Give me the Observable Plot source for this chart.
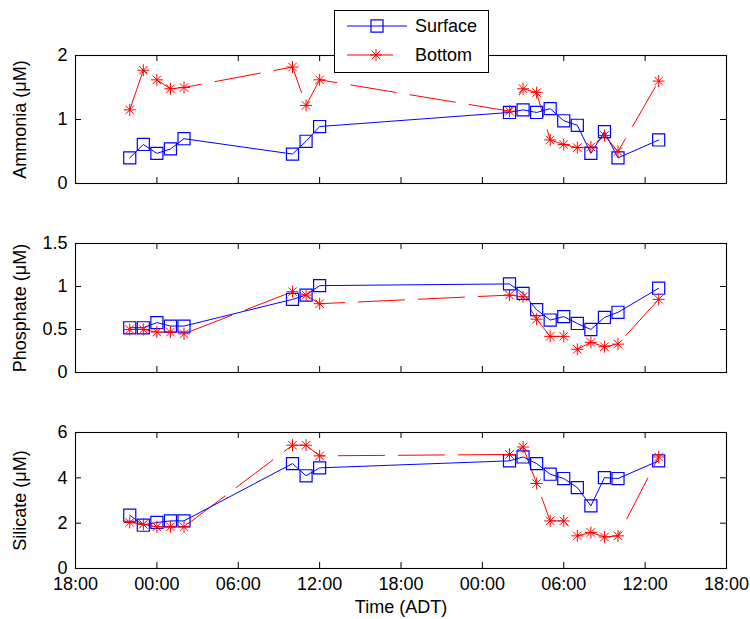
<!DOCTYPE html>
<html><head><meta charset="utf-8">
<script src="https://cdn.jsdelivr.net/npm/d3@7"></script>
<script src="https://cdn.jsdelivr.net/npm/@observablehq/plot@0.6"></script>
<style>
body{margin:0;background:#fff;}
#chart{position:relative;width:750px;height:619px;font-family:"Liberation Sans",Arial,sans-serif;}
#chart svg{overflow:visible;}
</style></head><body><div id="chart"></div>
<script>
// Sample times: hours after 18:00 on the first evening
const hours = [4,5,6,7,8,16,17,18,32,33,34,35,36,37,38,39,40,43];
const xTickValues = [0,6,12,18,24,30,36,42,48];
const xTickLabels = ["18:00","00:00","06:00","12:00","18:00","00:00","06:00","12:00","18:00"];
const seriesNames = ["Surface","Bottom"];
const seriesColors = ["#0000ff","#ff0000"];

const ammoniaSurface = [0.40,0.61,0.47,0.54,0.70,0.46,0.66,0.89,1.11,1.15,1.11,1.17,0.98,0.91,0.47,0.81,0.40,0.68];
const ammoniaBottom  = [1.15,1.77,1.62,1.48,1.50,1.82,1.22,1.62,1.13,1.48,1.42,0.68,0.61,0.56,0.57,0.75,0.50,1.60];
const phosphateSurface = [0.52,0.52,0.58,0.54,0.54,0.85,0.90,1.01,1.03,0.92,0.73,0.61,0.65,0.57,0.50,0.64,0.70,0.98];
const phosphateBottom  = [0.50,0.50,0.47,0.47,0.45,0.94,0.90,0.80,0.90,0.88,0.62,0.42,0.42,0.27,0.35,0.30,0.33,0.85];
const silicateSurface = [2.35,1.91,2.03,2.10,2.10,4.63,4.09,4.44,4.75,4.92,4.63,4.16,3.97,3.57,2.76,4.01,3.97,4.75];
const silicateBottom  = [2.03,1.95,1.84,1.84,1.84,5.44,5.44,4.97,5.03,5.36,3.75,2.10,2.10,1.44,1.59,1.39,1.44,4.92];

const ammoniaTicks = [0,1,2];
const phosphateTicks = [0,0.5,1,1.5];
const silicateTicks = [0,2,4,6];
const xLabel = "Time (ADT)";

const FONT = '"Liberation Sans", Arial, Helvetica, sans-serif';

const star = {
  draw(ctx, size) {
    const r = Math.sqrt(size / Math.PI);
    const d = r * Math.SQRT1_2;
    ctx.moveTo(-r, 0); ctx.lineTo(r, 0);
    ctx.moveTo(0, -r); ctx.lineTo(0, r);
    ctx.moveTo(-d, -d); ctx.lineTo(d, d);
    ctx.moveTo(-d, d); ctx.lineTo(d, -d);
  }
};

const panels = [
  {label: "Ammonia (μM)", surface: ammoniaSurface, bottom: ammoniaBottom, domain: [0,2], ticks: ammoniaTicks,
   top: 0, height: 213, mt: 55, mb: 30, showX: false},
  {label: "Phosphate (μM)", surface: phosphateSurface, bottom: phosphateBottom, domain: [0,1.5], ticks: phosphateTicks,
   top: 213, height: 190, mt: 30, mb: 31, showX: false},
  {label: "Silicate (μM)", surface: silicateSurface, bottom: silicateBottom, domain: [0,6], ticks: silicateTicks,
   top: 403, height: 216, mt: 29, mb: 51, showX: true}
];

const W = 750, ML = 75, MR = 24;
const chart = document.getElementById("chart");

for (const p of panels) {
  const data = hours.map((h, i) => ({h, s: p.surface[i], b: p.bottom[i]}));
  const fw = W - ML - MR;
  const fh = p.height - p.mt - p.mb;
  const marks = [
    Plot.ruleX(xTickValues, {x: d => d, insetTop: fh - 6, stroke: "black"}),
    Plot.ruleX(xTickValues, {x: d => d, insetBottom: fh - 6, stroke: "black"}),
    Plot.ruleY(p.ticks, {y: d => d, insetRight: fw - 6, stroke: "black"}),
    Plot.ruleY(p.ticks, {y: d => d, insetLeft: fw - 6, stroke: "black"}),
    Plot.line(data, {x: "h", y: "b", stroke: seriesColors[1], strokeWidth: 1, strokeDasharray: "46,14"}),
    Plot.line(data, {x: "h", y: "s", stroke: seriesColors[0], strokeWidth: 1}),
    Plot.dot(data, {x: "h", y: "s", symbol: "square", r: 6.8, stroke: seriesColors[0], strokeWidth: 1.2, fill: "none"}),
    Plot.dot(data, {x: "h", y: "b", symbol: star, r: 6, stroke: seriesColors[1], strokeWidth: 1, fill: "none"}),
    Plot.text([p.label], {frameAnchor: "left", dx: -55, rotate: -90, fontSize: 18, textAnchor: "middle", lineAnchor: "middle", fill: "black"}),
    Plot.frame({stroke: "black", strokeWidth: 1.1})
  ];
  if (p.showX) marks.push(Plot.text([xLabel], {frameAnchor: "bottom", dy: 39, textAnchor: "middle", lineAnchor: "middle", fontSize: 18, fill: "black"}));
  const svg = Plot.plot({
    width: W, height: p.height,
    marginLeft: ML, marginRight: MR, marginTop: p.mt, marginBottom: p.mb,
    style: {background: "transparent", fontSize: "18px", fontFamily: FONT, color: "black", overflow: "visible"},
    x: {domain: [0,48], ticks: xTickValues, tickFormat: d => xTickLabels[xTickValues.indexOf(d)],
        tickSize: 0, tickPadding: 9, label: null, axis: p.showX ? "bottom" : null},
    y: {domain: p.domain, ticks: p.ticks, tickFormat: d => String(d), tickSize: 0, tickPadding: 8, label: null},
    marks
  });
  svg.style.position = "absolute";
  svg.style.left = "0px";
  svg.style.top = p.top + "px";
  svg.style.overflow = "visible";
  chart.appendChild(svg);
}

// Legend
const lg = d3.select(chart).append("svg")
  .attr("width", 170).attr("height", 70)
  .style("position", "absolute").style("left", "326px").style("top", "4px")
  .style("font-family", FONT).style("font-size", "18px");
lg.append("rect").attr("x", 8.5).attr("y", 6.5).attr("width", 154).attr("height", 62)
  .attr("fill", "white").attr("stroke", "black");
seriesNames.forEach((name, i) => {
  const y = 22 + i * 29;
  lg.append("line").attr("x1", 21).attr("x2", i === 0 ? 81 : 67).attr("y1", y).attr("y2", y)
    .attr("stroke", seriesColors[i]);
  lg.append("path").attr("transform", `translate(${i === 0 ? 51 : 50},${y})`)
    .attr("d", d3.symbol(i === 0 ? d3.symbolSquare : star, i === 0 ? Math.PI * 6.8 * 6.8 : Math.PI * 36)())
    .attr("fill", "none").attr("stroke", seriesColors[i]).attr("stroke-width", i === 0 ? 1.2 : 1);
  lg.append("text").attr("x", 89).attr("y", y).attr("dy", "0.35em").text(name);
});
</script>
</body></html>
